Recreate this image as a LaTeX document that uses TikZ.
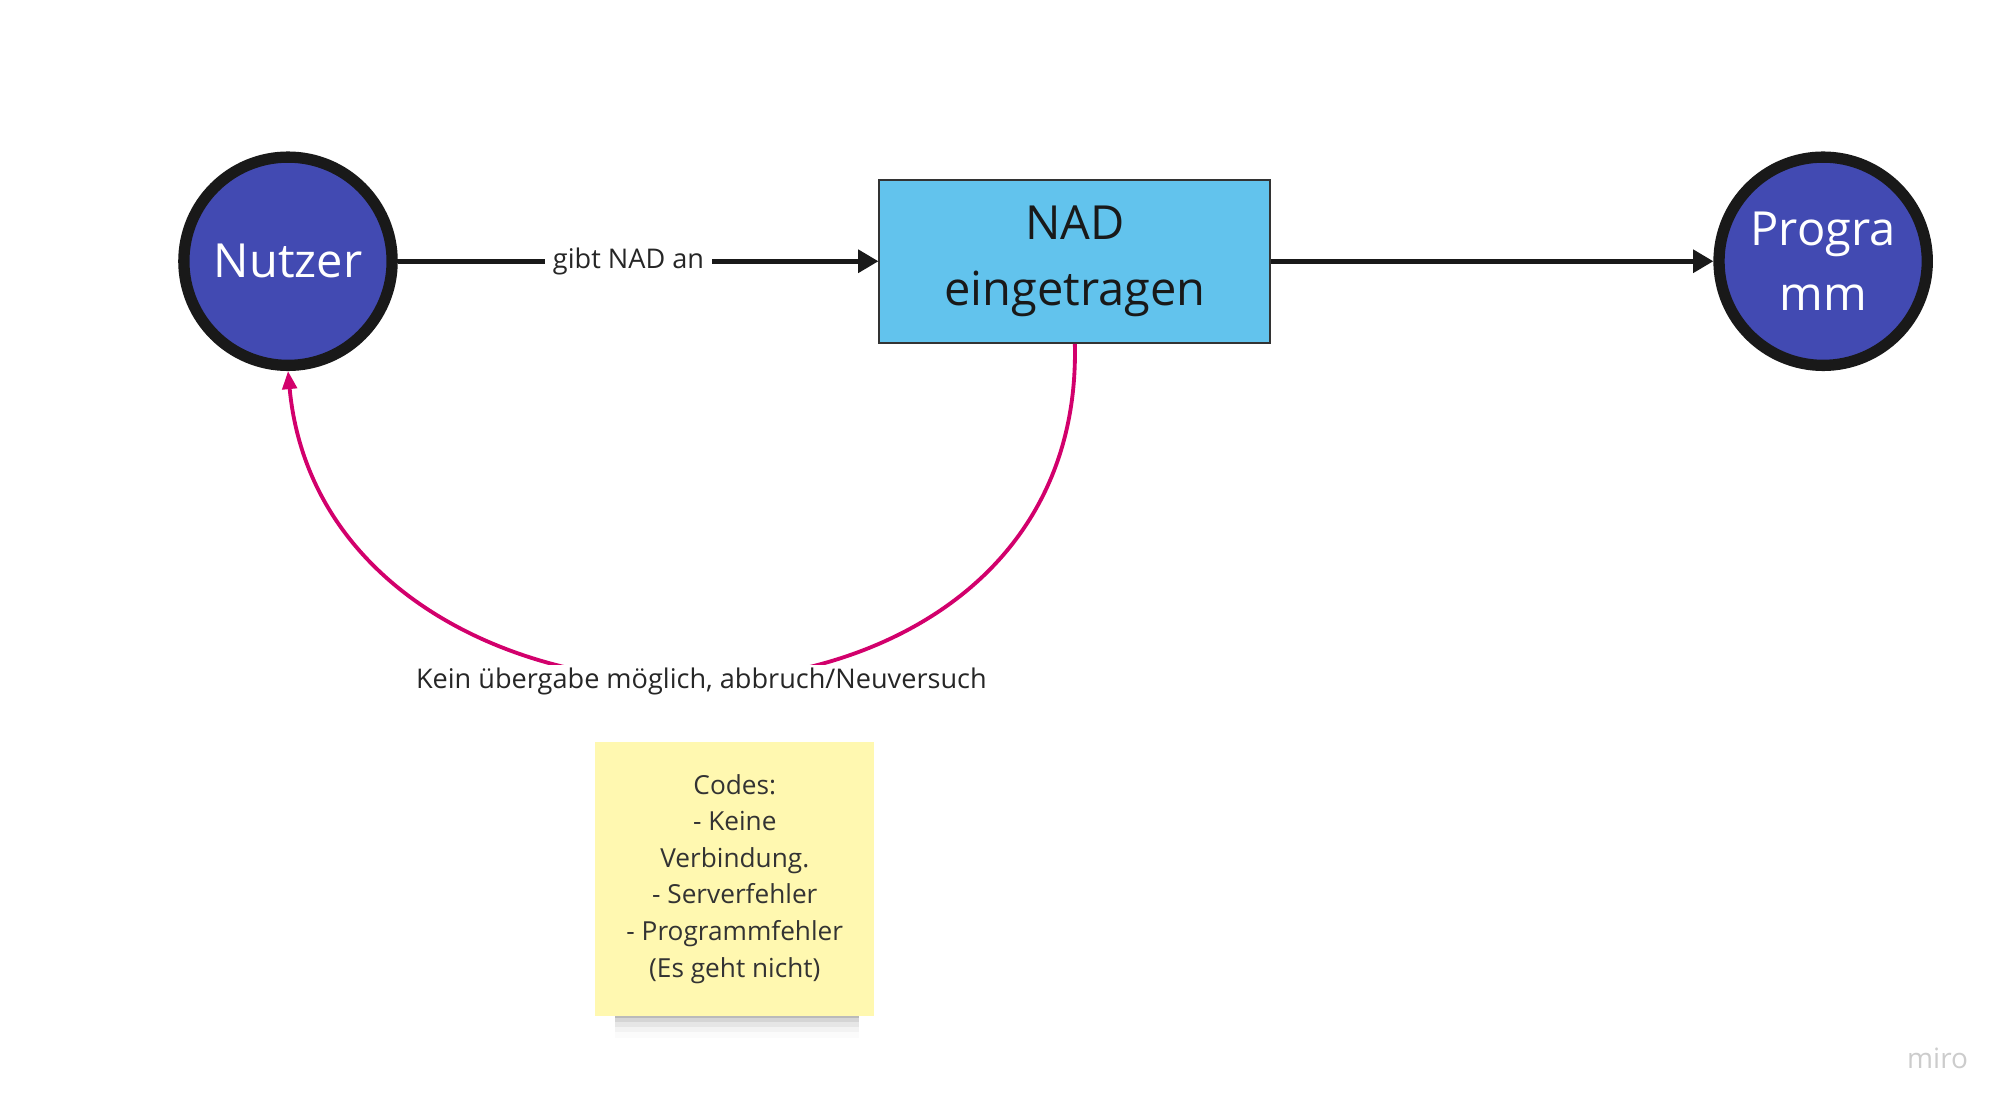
\documentclass[tikz,border=0pt]{standalone}
\usepackage{fontspec}
\setmainfont{Open Sans}
\usepackage{tikz}
\usetikzlibrary{arrows.meta,
                positioning}

\definecolor{nodeblue}{HTML}{424AB2}
\definecolor{boxblue}{HTML}{62C3ED}
\definecolor{stickyyellow}{HTML}{FFF8B0}
\definecolor{failred}{HTML}{D2006C}
\definecolor{inkgrey}{HTML}{333333}

\tikzset{
  actor/.style={circle, draw=black!90, line width=2.5pt, fill=nodeblue,
                minimum size=1.62cm, inner sep=0pt, text=white, align=center,
                font=\fontsize{10.4}{14.5}\selectfont},
  stepbox/.style={rectangle, draw=black!80, line width=0.45pt, fill=boxblue,
                  minimum width=3.04cm, minimum height=1.27cm, align=center,
                  text=black!90, font=\fontsize{10.4}{14.5}\selectfont},
  flow/.style={-{Triangle[length=4.5pt,width=5pt]}, line width=1pt, black!90},
  fail/.style={-{Triangle[length=4pt,width=3.2pt]}, line width=0.85pt, failred},
  edgelabel/.style={fill=white, inner xsep=1.8pt, inner ysep=0.6pt, text=black!85,
                    font=\fontsize{6}{7}\selectfont},
  sticky/.style={rectangle, fill=stickyyellow, minimum width=2.17cm,
                 minimum height=2.13cm, align=center, text=inkgrey,
                 font=\fontsize{5.8}{8.1}\selectfont}
}

\begin{document}
\begin{tikzpicture}
\useasboundingbox (0,0) rectangle (15.68,8.672);

\node[actor] (nutzer) at (2.24,6.64) {Nutzer};
\node[stepbox] (nad) at (8.36,6.64) {NAD\\eingetragen};
\node[actor] (programm) at (14.18,6.64) {Progra\\mm};

\draw[flow] (nutzer) -- node[edgelabel, pos=0.48] {gibt NAD an} (nad);
\draw[flow] (nad) -- (programm);

% Rueckweg bei Fehler
\draw[fail] (nad.south) .. controls +(0.08,-3.475) and +(0.3,-3.2) .. (nutzer.south);
\node[edgelabel, inner xsep=0.6pt] (fehler) at (5.455,3.37) {Kein übergabe möglich, abbruch/Neuversuch};

% Notiz mit Schatten
\foreach \d/\o in {0.02/0.12,0.05/0.08,0.09/0.05,0.13/0.03,0.17/0.015}
  \fill[black,opacity=\o] (4.78,0.772-\d) rectangle (6.68,0.772+0.04);
\node[sticky] (codes) at (5.715,1.837)
  {Codes:\\- Keine\\Verbindung.\\- Serverfehler\\- Programmfehler\\(Es geht nicht)};

\node[text=black!20, font=\fontsize{6.2}{7}\selectfont] (miro) at (15.07,0.442) {miro};
\end{tikzpicture}
\end{document}
